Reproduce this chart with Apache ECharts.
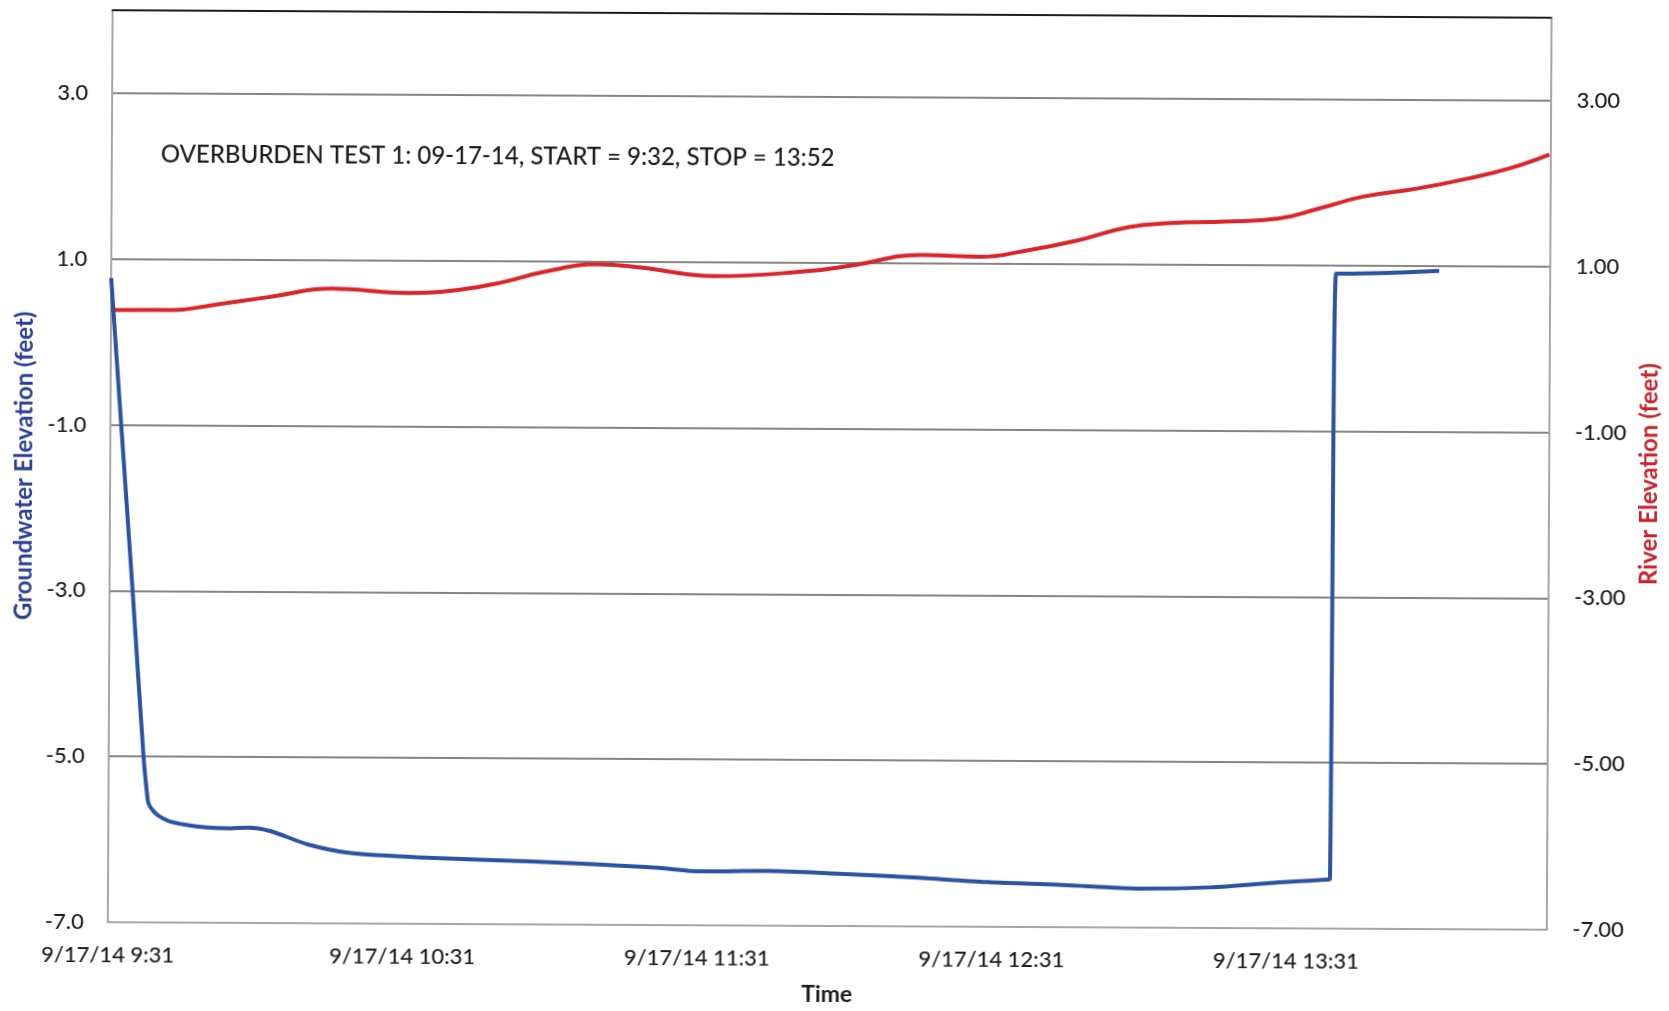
<!DOCTYPE html>
<html>
<head>
<meta charset="utf-8">
<title>Overburden Test 1</title>
<script src="https://cdn.jsdelivr.net/npm/echarts@6/dist/echarts.min.js"></script>
<style>
  html, body { margin: 0; padding: 0; background: #ffffff; overflow: hidden; }
  #chart { width: 1669px; height: 1011px; transform: rotate(0.3deg); }
</style>
</head>
<body>
<div id="chart"></div>
<script>
// Time axis: minutes elapsed since 9/17/14 9:31
const DATE_PREFIX = '9/17/14';
const START_HOUR = 9;
const START_MINUTE = 31;
const AXIS_END_MIN = 293;
const HOUR_STEP = 60;

// Left-axis tick labels (feet)
const elevationTicks = [-7, -5, -3, -1, 1, 3];

// River elevation (feet), right axis
const riverMinutes = [0, 12.6, 21.2, 32, 45, 60.2, 71, 79.6, 88.3, 99.1, 107.8, 122.9, 142.4, 151, 165.1, 177, 185.7, 196.5, 207.3, 216, 226.8, 237.6, 246.3, 254.9, 265.8, 276.6, 285.2, 292.8];
const riverFeet    = [0.385, 0.388, 0.455, 0.549, 0.655, 0.608, 0.65, 0.742, 0.873, 0.966, 0.93, 0.83, 0.90, 0.97, 1.10, 1.08, 1.15, 1.28, 1.45, 1.50, 1.52, 1.56, 1.69, 1.83, 1.93, 2.06, 2.19, 2.35];

// Groundwater elevation (feet), left axis
const gwMinutes = [0, 2.2, 4.7, 7.1, 7.8, 8.2, 9.2, 10.4, 12.5, 15.8, 20, 24.5, 28.5, 33, 40.7, 49.3, 64.5, 86.1, 99.1, 112.1, 120.7, 133.7, 148.9, 164, 179.2, 194.3, 210.6, 224.6, 237.6, 248.4, 248.9, 249.5, 251, 270.5];
const gwFeet    = [0.77, -1.0, -3.0, -5.0, -5.42, -5.57, -5.66, -5.72, -5.78, -5.82, -5.85, -5.86, -5.85, -5.89, -6.05, -6.15, -6.20, -6.24, -6.27, -6.31, -6.35, -6.34, -6.37, -6.41, -6.46, -6.49, -6.53, -6.51, -6.45, -6.41, -6.40, 0.90, 0.90, 0.94];

const titleText = 'OVERBURDEN TEST 1: 09-17-14, START = 9:32, STOP = 13:52';

const pair = (xs, ys) => xs.map((x, i) => [x, ys[i]]);

function clockLabel(v) {
  if (v % HOUR_STEP !== 0) return '';
  const total = START_HOUR * 60 + START_MINUTE + v;
  const h = Math.floor(total / 60);
  const m = total % 60;
  return DATE_PREFIX + ' ' + h + ':' + String(m).padStart(2, '0');
}

function elevLabel(decimals) {
  return function (v) {
    const r = Math.round(v * 100) / 100;
    return elevationTicks.indexOf(r) >= 0 ? r.toFixed(decimals) : '';
  };
}

const FONT = 'Lato';
const TEXT = '#1c1c1c';

const chart = echarts.init(document.getElementById('chart'), null, { renderer: 'canvas' });

chart.setOption({
  backgroundColor: '#ffffff',
  animation: false,
  textStyle: { fontFamily: FONT },
  grid: { left: 110, right: 120, top: 14, bottom: 83, containLabel: false },
  graphic: [{
    type: 'text',
    left: 159,
    top: 146,
    style: { text: titleText, font: '500 24px Lato', fill: TEXT }
  }],
  xAxis: [{
    type: 'value',
    position: 'bottom',
    min: 0,
    max: AXIS_END_MIN,
    interval: HOUR_STEP,
    name: 'Time',
    nameLocation: 'middle',
    nameGap: 57,
    nameTextStyle: { fontFamily: FONT, fontSize: 23, fontWeight: 'bold', color: TEXT },
    axisLine: { show: true, onZero: false, lineStyle: { color: '#a6a6a6', width: 2 } },
    axisTick: { show: false },
    splitLine: { show: false },
    axisLabel: {
      formatter: clockLabel,
      fontFamily: FONT, fontSize: 22, fontWeight: 500, color: TEXT, margin: 22,
      showMinLabel: true, showMaxLabel: false
    }
  }, {
    type: 'value',
    position: 'top',
    min: 0,
    max: AXIS_END_MIN,
    axisLine: { show: true, onZero: false, lineStyle: { color: '#1e1e1e', width: 2 } },
    axisTick: { show: false },
    axisLabel: { show: false },
    splitLine: { show: false }
  }],
  yAxis: [{
    type: 'value',
    position: 'left',
    min: -7,
    max: 4,
    interval: 1,
    name: 'Groundwater Elevation (feet)',
    nameLocation: 'middle',
    nameRotate: 90,
    nameGap: 74,
    nameTextStyle: { fontFamily: FONT, fontSize: 24, fontWeight: 'bold', color: '#2a3f95' },
    axisLine: { show: true, onZero: false, lineStyle: { color: '#a6a6a6', width: 2 } },
    axisTick: { show: false },
    axisLabel: { formatter: elevLabel(1), fontFamily: FONT, fontSize: 22, fontWeight: 500, color: TEXT, margin: 24 },
    splitLine: { show: true, lineStyle: { color: ['#858585', 'rgba(0,0,0,0)'], width: 1.8 } }
  }, {
    type: 'value',
    position: 'right',
    min: -7,
    max: 4,
    interval: 1,
    name: 'River Elevation (feet)',
    nameLocation: 'middle',
    nameRotate: 90,
    nameGap: 86,
    nameTextStyle: { fontFamily: FONT, fontSize: 24, fontWeight: 'bold', color: '#c8232b' },
    axisLine: { show: true, onZero: false, lineStyle: { color: '#a6a6a6', width: 2 } },
    axisTick: { show: false },
    axisLabel: { formatter: elevLabel(2), fontFamily: FONT, fontSize: 22, fontWeight: 500, color: TEXT, margin: 26 },
    splitLine: { show: false }
  }],
  series: [{
    name: 'River Elevation',
    type: 'line',
    xAxisIndex: 0,
    yAxisIndex: 1,
    data: pair(riverMinutes, riverFeet),
    smooth: 0.45,
    showSymbol: false,
    lineStyle: { color: '#d9252c', width: 4 },
    z: 3
  }, {
    name: 'Groundwater Elevation',
    type: 'line',
    xAxisIndex: 0,
    yAxisIndex: 0,
    data: pair(gwMinutes, gwFeet),
    smooth: 0.3,
    showSymbol: false,
    lineStyle: { color: '#2b52a3', width: 4, join: 'round' },
    z: 4
  }]
});
</script>
</body>
</html>
